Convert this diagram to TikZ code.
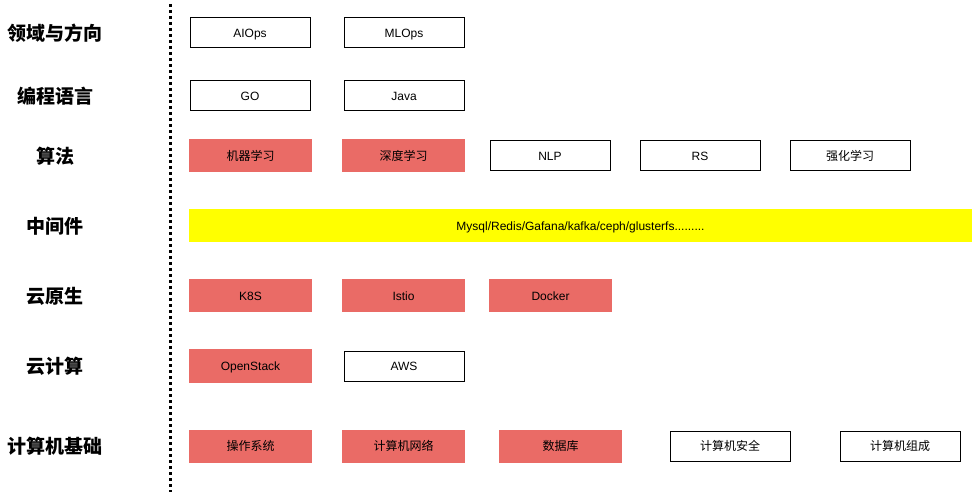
\documentclass[tikz,border=0pt]{standalone}
\usepackage{fontspec}
\setmainfont{Liberation Sans}
\newfontfamily\cjk{Noto Sans CJK SC}
\usepackage{tikz}
\definecolor{hotred}{HTML}{EA6B66}
\definecolor{midyellow}{HTML}{FFFF00}
\tikzstyle{area} = [font=\cjk\bfseries\fontsize{19}{22}\selectfont, text centered]
\tikzstyle{plain} = [rectangle, minimum width=120pt, minimum height=30pt, text centered, text height=9pt, text depth=0pt, draw=black, line width=1pt, fill=white, font=\fontsize{12}{14}\selectfont]
\tikzstyle{hot} = [rectangle, minimum width=123pt, minimum height=33pt, text centered, text height=9pt, text depth=0pt, fill=hotred, font=\fontsize{12}{14}\selectfont]
\tikzstyle{split} = [line width=3pt, dash pattern=on 3pt off 3pt]

\begin{document}
\begin{tikzpicture}
			[x=1pt,y=-1pt]
			\useasboundingbox (0,0) rectangle (972,494);
			% left column
			\node (domain) [area] at (55,33) {领域与方向};
			\node (lang) [area] at (55,96) {编程语言};
			\node (algo) [area] at (55,156) {算法};
			\node (middle) [area] at (55,226) {中间件};
			\node (native) [area] at (55,296) {云原生};
			\node (cloud) [area] at (55,366) {云计算};
			\node (basis) [area] at (55,446) {计算机基础};
			\coordinate (top) at (170,4);
			\coordinate (bottom) at (170,492);
			\draw [split] (top) -- (bottom);
			% rows
			\node (aiops) [plain] at (250,33) {AIOps};
			\node (mlops) [plain] at (404,33) {MLOps};
			\node (go) [plain] at (250,96) {GO};
			\node (java) [plain] at (404,96) {Java};
			\node (ml) [hot] at (250.5,156) {\cjk 机器学习};
			\node (dl) [hot] at (403.5,156) {\cjk 深度学习};
			\node (nlp) [plain] at (550,156) {NLP};
			\node (rs) [plain] at (700,156) {RS};
			\node (rl) [plain] at (850,156) {\cjk 强化学习};
			\node (stack) [rectangle, minimum width=783pt, minimum height=33pt, text height=9pt, text depth=0pt, fill=midyellow, font=\fontsize{12}{14}\selectfont] at (580.5,226) {Mysql/Redis/Gafana/kafka/ceph/glusterfs.........};
			\node (k8s) [hot] at (250.5,296) {K8S};
			\node (istio) [hot] at (403.5,296) {Istio};
			\node (docker) [hot] at (550.5,296) {Docker};
			\node (openstack) [hot] at (250.5,366) {OpenStack};
			\node (aws) [plain] at (404,366) {AWS};
			\node (os) [hot] at (250.5,446) {\cjk 操作系统};
			\node (net) [hot] at (403.5,446) {\cjk 计算机网络};
			\node (db) [hot] at (560.5,446) {\cjk 数据库};
			\node (sec) [plain] at (730,446) {\cjk 计算机安全};
			\node (arch) [plain] at (900,446) {\cjk 计算机组成};
		\end{tikzpicture}
\end{document}
